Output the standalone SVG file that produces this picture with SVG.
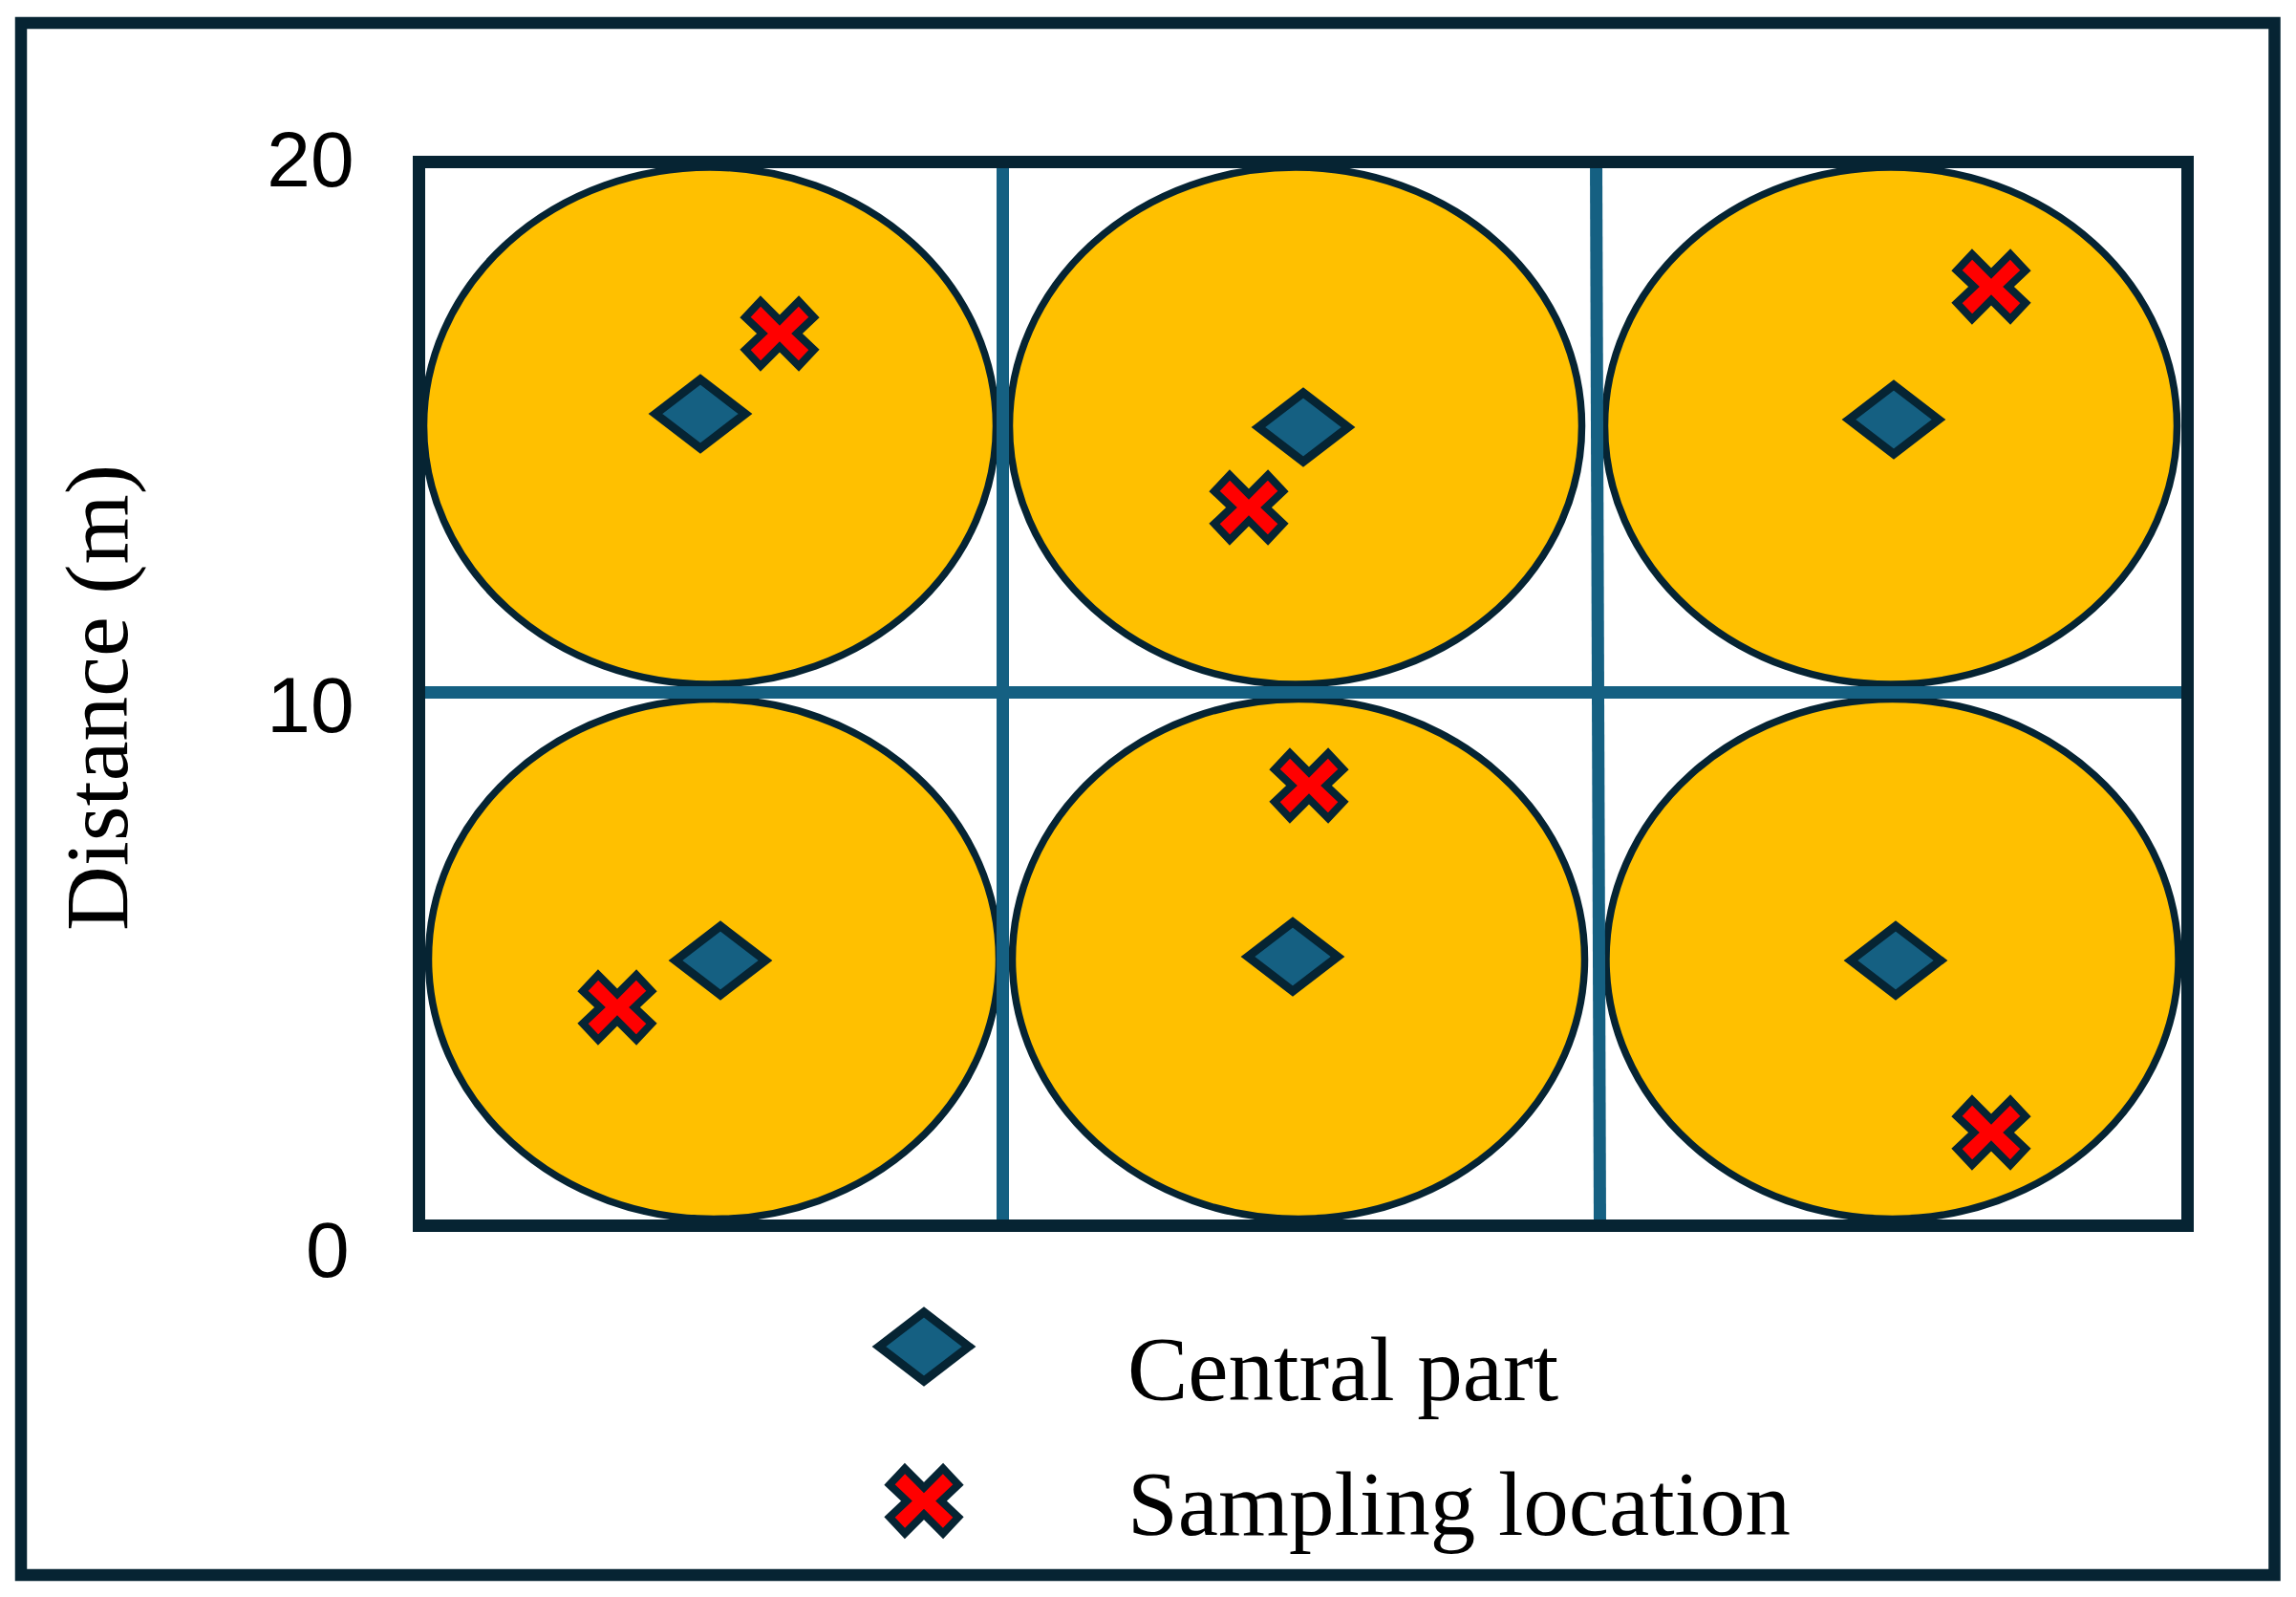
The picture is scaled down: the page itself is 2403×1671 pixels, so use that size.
<svg xmlns="http://www.w3.org/2000/svg" xmlns:xlink="http://www.w3.org/1999/xlink" width="2403" height="1671" viewBox="0 0 2403 1671">
<style>
.frame{fill:none;stroke:#062433;stroke-width:12.5}
.plot{fill:none;stroke:#062433;stroke-width:13}
.grid{stroke:#156082;stroke-width:13;fill:none}
.area{fill:#FFC000;stroke:#062433;stroke-width:7.5}
.dia{fill:#156082;stroke:#062433;stroke-width:9;stroke-linejoin:miter;stroke-miterlimit:10}
.xm{fill:#FF0000;stroke:#062433;stroke-width:8;stroke-linejoin:miter;stroke-miterlimit:10}
.num{font-family:"Liberation Sans",Arial,sans-serif;font-size:82px;fill:#000;text-anchor:end}
.lab{font-family:"Liberation Serif","Times New Roman",serif;font-size:95px;fill:#000}
</style>
<defs>
<path id="diamond" d="M-47 0 L0 -36 L47 0 L0 36 Z"/>
<path id="cross" d="M-36 -17 L-20 -34 L0 -14 L20 -34 L36 -17 L18 0 L36 17 L20 34 L0 14 L-20 34 L-36 17 L-18 0 Z"/>
</defs>
<rect width="2403" height="1671" fill="#fff"/>
<rect id="frame" class="frame" x="22" y="24" width="2358.5" height="1624"/>

<g id="areas">
<ellipse id="area-tl" class="area" cx="743" cy="445.5" rx="299.5" ry="270.5"/>
<ellipse id="area-tm" class="area" cx="1356" cy="445.5" rx="299.5" ry="270.5"/>
<ellipse id="area-tr" class="area" cx="1979" cy="445.5" rx="299.5" ry="270.5"/>
<ellipse id="area-bl" class="area" cx="747" cy="1003.5" rx="298.5" ry="272"/>
<ellipse id="area-bm" class="area" cx="1359" cy="1003.5" rx="299.5" ry="272"/>
<ellipse id="area-br" class="area" cx="1980.5" cy="1003.5" rx="299.5" ry="272"/>
</g>

<g id="grid">
<line class="grid" x1="1049.5" y1="168" x2="1049.5" y2="1282"/>
<line class="grid" x1="1670.5" y1="168" x2="1674.5" y2="1282"/>
<line class="grid" x1="444" y1="724.5" x2="2285" y2="724.5"/>
</g>
<rect id="plot" class="plot" x="438.5" y="169.5" width="1851" height="1113"/>

<g id="central-parts">
<use id="c-tl" class="dia" xlink:href="#diamond" href="#diamond" transform="translate(733 433)"/>
<use id="c-tm" class="dia" xlink:href="#diamond" href="#diamond" transform="translate(1364 447)"/>
<use id="c-tr" class="dia" xlink:href="#diamond" href="#diamond" transform="translate(1982 439)"/>
<use id="c-bl" class="dia" xlink:href="#diamond" href="#diamond" transform="translate(754 1005)"/>
<use id="c-bm" class="dia" xlink:href="#diamond" href="#diamond" transform="translate(1353 1001)"/>
<use id="c-br" class="dia" xlink:href="#diamond" href="#diamond" transform="translate(1984 1005)"/>
</g>

<g id="sampling-locations">
<use id="s-tl" class="xm" xlink:href="#cross" href="#cross" transform="translate(816 349)"/>
<use id="s-tm" class="xm" xlink:href="#cross" href="#cross" transform="translate(1307 531)"/>
<use id="s-tr" class="xm" xlink:href="#cross" href="#cross" transform="translate(2084 300)"/>
<use id="s-bl" class="xm" xlink:href="#cross" href="#cross" transform="translate(646 1054)"/>
<use id="s-bm" class="xm" xlink:href="#cross" href="#cross" transform="translate(1370 822)"/>
<use id="s-br" class="xm" xlink:href="#cross" href="#cross" transform="translate(2084 1185)"/>
</g>

<g id="axis">
<text class="num" x="370.5" y="195">20</text>
<text class="num" x="370.5" y="766">10</text>
<text class="num" x="365.5" y="1336">0</text>
<text class="lab" style="font-size:94px" text-anchor="middle" transform="translate(133 730) rotate(-90)">Distance (m)</text>
</g>

<g id="legend">
<g id="legend-central">
<use class="dia" xlink:href="#diamond" href="#diamond" transform="translate(967 1409)"/>
<text class="lab" x="1180" y="1465">Central part</text>
</g>
<g id="legend-sampling">
<use class="xm" xlink:href="#cross" href="#cross" transform="translate(967 1570.5)"/>
<text class="lab" x="1180" y="1606">Sampling location</text>
</g>
</g>
</svg>
